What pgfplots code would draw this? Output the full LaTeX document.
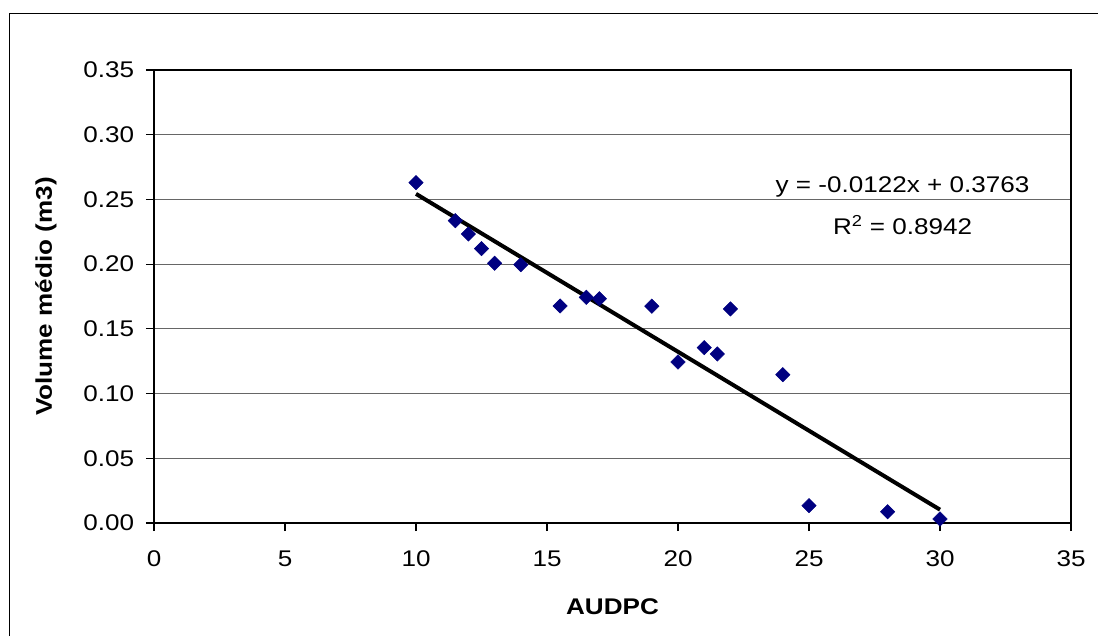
\documentclass[border=0pt]{standalone}
\usepackage{fontspec}
\setmainfont{Liberation Sans}[FakeStretch=1.15]
\usepackage{pgfplots}
\pgfplotsset{compat=1.18}
\definecolor{navyd}{RGB}{0,0,128}
\begin{document}
\fontsize{17pt}{20pt}\selectfont
\begin{tikzpicture}
\useasboundingbox (0,0) rectangle (823.5pt,477pt);
\draw[black, line width=0.8pt] (7pt,0) -- (7pt,466.7pt) -- (830pt,466.7pt);
\begin{axis}[
  at={(115.5pt,84.75pt)}, anchor=south west,
  scale only axis, width=687.75pt, height=339.75pt,
  xmin=0, xmax=35, ymin=0, ymax=0.35,
  xtick={0,5,10,15,20,25,30,35},
  ytick={0,0.05,0.10,0.15,0.20,0.25,0.30,0.35},
  yticklabel style={/pgf/number format/fixed, /pgf/number format/fixed zerofill, /pgf/number format/precision=2, xshift=-3pt},
  /pgf/number format/assume math mode=true,
  ymajorgrids, grid style={color=black!60, line width=0.7pt},
  axis line style={black, line width=1.3pt},
  tick style={black, line width=0.8pt},
  tick align=outside, major tick length=6pt,
  xtick pos=bottom, ytick pos=left,
  ticklabel style={font=\fontsize{17pt}{20pt}\selectfont},
  xticklabel style={yshift=-9pt},
  xlabel={\textbf{AUDPC}}, ylabel={\textbf{Volume médio (m3)}},
  every axis x label/.style={at={(axis description cs:0.5,-0.1848)}, anchor=center, font=\fontsize{17pt}{20pt}\selectfont},
  every axis y label/.style={at={(axis description cs:-0.1178,0.5)}, anchor=center, rotate=90, font=\fontsize{17pt}{20pt}\selectfont},
]
\addplot[only marks, mark=square*, mark size=3.8pt, mark options={rotate=45, fill=navyd, draw=navyd}] coordinates {
(10,0.263) (11.5,0.2336) (12,0.2233) (12.5,0.212) (13,0.2007) (14,0.1996)
(15.5,0.1677) (16.5,0.1744) (17,0.1733) (19,0.1675) (20,0.1244) (21,0.1355)
(21.5,0.1306) (22,0.1654) (24,0.1146) (25,0.0134) (28,0.0087) (30,0.0031)
};
\addplot[black, line width=3pt] coordinates {(10,0.2543) (30,0.0103)};
\node[anchor=center, font=\fontsize{17pt}{20pt}\selectfont] at (axis cs:28.57,0.260) {y = -0.0122x + 0.3763};
\node[anchor=center, font=\fontsize{17pt}{20pt}\selectfont] at (axis cs:28.57,0.2303) {R\textsuperscript{2} = 0.8942};
\end{axis}
\end{tikzpicture}
\end{document}
